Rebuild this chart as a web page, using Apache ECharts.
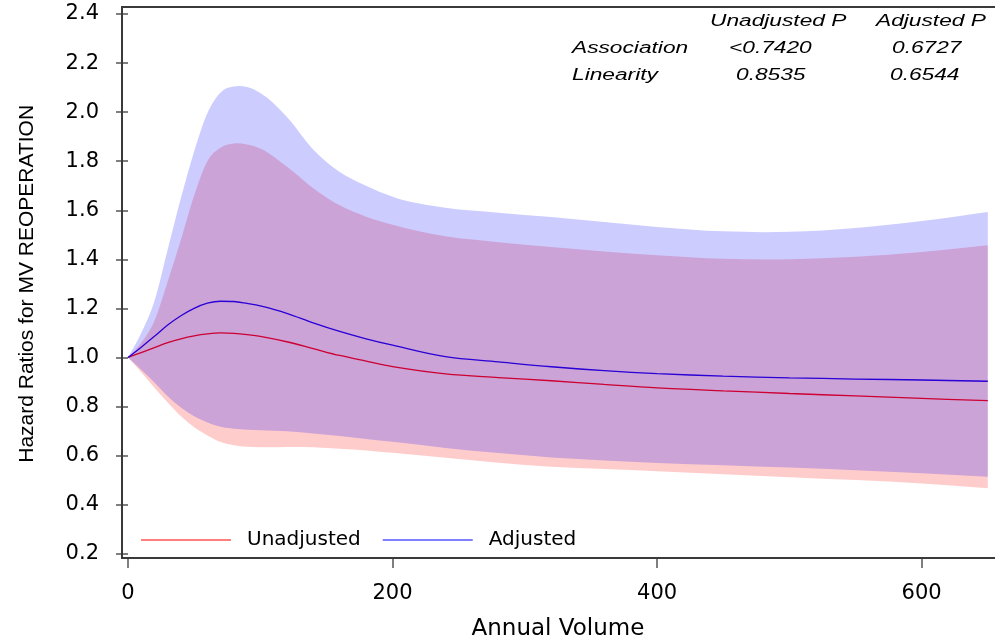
<!DOCTYPE html>
<html>
<head>
<meta charset="utf-8">
<title>Hazard Ratios for MV Reoperation</title>
<script src="https://cdn.jsdelivr.net/npm/echarts@6/dist/echarts.min.js"></script>
<style>
  html, body { margin: 0; padding: 0; background: #fff; }
  #chart { width: 995px; height: 640px; }
</style>
</head>
<body>
<div id="chart"></div>
<script>
// annual volume (x) where the curves were read
var volume = [0, 10, 20, 30, 40, 50, 60, 70, 80, 90, 100, 120, 140, 160, 180, 200,
              240, 280, 320, 360, 400, 450, 500, 550, 600, 650];

// unadjusted hazard ratio and its confidence band
var unadjHR  = [1.000, 1.020, 1.040, 1.060, 1.076, 1.088, 1.096, 1.100, 1.098, 1.093, 1.086, 1.064, 1.036, 1.008, 0.985, 0.963,
                0.933, 0.918, 0.905, 0.890, 0.876, 0.864, 0.853, 0.843, 0.833, 0.824];
var unadjLow = [1.000, 0.940, 0.876, 0.816, 0.760, 0.715, 0.682, 0.655, 0.642, 0.636, 0.634, 0.635, 0.634, 0.628, 0.621, 0.611,
                0.591, 0.571, 0.554, 0.545, 0.536, 0.524, 0.512, 0.500, 0.486, 0.467];
var unadjUp  = [1.000, 1.060, 1.150, 1.310, 1.480, 1.660, 1.800, 1.855, 1.872, 1.868, 1.852, 1.778, 1.690, 1.620, 1.574, 1.541,
                1.494, 1.470, 1.450, 1.432, 1.417, 1.402, 1.400, 1.410, 1.430, 1.457];

// adjusted hazard ratio and its confidence band
var adjHR  = [1.000, 1.042, 1.086, 1.132, 1.170, 1.200, 1.221, 1.229, 1.228, 1.220, 1.210, 1.180, 1.141, 1.106, 1.076, 1.050,
              1.003, 0.982, 0.962, 0.946, 0.934, 0.924, 0.917, 0.912, 0.908, 0.903];
var adjLow = [1.000, 0.950, 0.898, 0.842, 0.796, 0.760, 0.735, 0.717, 0.709, 0.705, 0.703, 0.699, 0.690, 0.680, 0.668, 0.656,
              0.631, 0.610, 0.592, 0.580, 0.570, 0.561, 0.551, 0.540, 0.528, 0.514];
var adjUp  = [1.000, 1.100, 1.230, 1.440, 1.650, 1.840, 1.995, 2.080, 2.104, 2.102, 2.078, 1.981, 1.848, 1.756, 1.700, 1.655,
              1.610, 1.590, 1.572, 1.552, 1.532, 1.514, 1.512, 1.528, 1.556, 1.593];

var xTicks = [0, 200, 400, 600];
var yTicks = [0.2, 0.4, 0.6, 0.8, 1.0, 1.2, 1.4, 1.6, 1.8, 2.0, 2.2, 2.4];

// p-value table in the top right corner
var pHeader = ['Unadjusted P', 'Adjusted P'];
var pRows   = ['Association', 'Linearity'];
var pUnadj  = ['<0.7420', '0.8535'];
var pAdj    = ['0.6727', '0.6544'];

function pairs(ys) {
  return volume.map(function (x, i) { return [x, ys[i]]; });
}

// cubic hermite through screen points (x-ordered), as bezier commands
function curve(pts) {
  var n = pts.length, m = [], d = '';
  function slope(a, b) { return (b[1] - a[1]) / (b[0] - a[0]); }
  for (var i = 0; i < n; i++) {
    if (i === 0) m.push(slope(pts[0], pts[1]));
    else if (i === n - 1) m.push(slope(pts[n - 2], pts[n - 1]));
    else {
      var h0 = pts[i][0] - pts[i - 1][0], h1 = pts[i + 1][0] - pts[i][0];
      m.push((slope(pts[i - 1], pts[i]) * h1 + slope(pts[i], pts[i + 1]) * h0) / (h0 + h1));
    }
  }
  for (var j = 0; j < n - 1; j++) {
    var p1 = pts[j], p2 = pts[j + 1], h = (p2[0] - p1[0]) / 3;
    d += ' C' + (p1[0] + h) + ',' + (p1[1] + m[j] * h) + ' ' +
         (p2[0] - h) + ',' + (p2[1] - m[j + 1] * h) + ' ' + p2[0] + ',' + p2[1];
  }
  return d;
}

function band(name, low, up, color, z) {
  return {
    name: name,
    type: 'custom',
    z: z,
    silent: true,
    encode: { x: 0, y: [1, 2] },
    data: volume.map(function (x, i) { return [x, low[i], up[i]]; }),
    renderItem: function (params, api) {
      if (params.dataIndex !== 0) return null;
      var top = volume.map(function (x, i) { return api.coord([x, up[i]]); });
      var bot = volume.map(function (x, i) { return api.coord([x, low[i]]); }).reverse();
      var d = 'M' + top[0].join(',') + curve(top) + ' L' + bot[0].join(',') + curve(bot) + ' Z';
      return { type: 'path', shape: { pathData: d }, style: { fill: color } };
    }
  };
}

function hrLine(name, ys, color) {
  return {
    name: name,
    type: 'line',
    z: 1,
    color: color,
    data: pairs(ys),
    smooth: 0.35,
    showSymbol: false,
    lineStyle: { width: 1.3, color: color }
  };
}

var italic = 'italic 16px "Liberation Sans", Arial, sans-serif';
function note(txt, x, y) {
  return {
    type: 'text', x: x, y: y, scaleX: 1.42, z: 20,
    style: { text: txt, font: italic, fill: '#000', textVerticalAlign: 'middle' }
  };
}

var notes = [
  note(pHeader[0], 710, 22), note(pHeader[1], 876, 22),
  note(pRows[0], 572, 49), note(pUnadj[0], 729, 49), note(pAdj[0], 892, 49),
  note(pRows[1], 572, 76), note(pUnadj[1], 736, 76), note(pAdj[1], 890, 76)
];

var myChart = echarts.init(document.getElementById('chart'));

var option = {
  animation: false,
  backgroundColor: '#fff',
  grid: { left: 128, right: 7.2, top: 14, bottom: 86.3, outerBoundsMode: 'none', containLabel: false },
  legend: {
    data: ['Unadjusted', 'Adjusted'],
    left: 141, top: 530, padding: 0,
    icon: 'rect', itemWidth: 90, itemHeight: 1.2, itemGap: 22,
    textStyle: { fontSize: 20, color: '#000', fontFamily: 'DejaVu Sans', padding: [0, 0, 0, 11] }
  },
  xAxis: {
    type: 'value', min: 0, max: 650, offset: 4.3,
    name: 'Annual Volume', nameLocation: 'middle', nameGap: 60,
    nameTextStyle: { fontSize: 23, color: '#000', fontFamily: 'DejaVu Sans' },
    axisLine: { show: false },
    axisTick: { show: true, length: 10, customValues: xTicks, lineStyle: { color: '#555', width: 1.5 } },
    axisLabel: { customValues: xTicks, margin: 25, fontSize: 21, color: '#000', fontFamily: 'DejaVu Sans' },
    splitLine: { show: false }
  },
  yAxis: {
    type: 'value', min: 0.2, max: 2.4, interval: 0.2, offset: 6,
    name: 'Hazard Ratios for MV REOPERATION', nameLocation: 'middle', nameGap: 84, nameRotate: 90,
    nameTextStyle: { fontSize: 21, color: '#000', fontFamily: 'Liberation Sans' },
    axisLine: { show: false },
    axisTick: { show: true, length: 12, customValues: yTicks, lineStyle: { color: '#555', width: 1.5 } },
    axisLabel: {
      customValues: yTicks, margin: 23, fontSize: 21, color: '#000', fontFamily: 'DejaVu Sans',
      formatter: function (v) { return v.toFixed(1); }
    },
    splitLine: { show: false }
  },
  graphic: [{
    type: 'polyline', z: 15, silent: true,
    shape: { points: [[995, 7], [122, 7], [122, 558], [995, 558]] },
    style: { stroke: '#3a3a3a', lineWidth: 2, fill: null }
  }].concat(notes),
  series: [
    hrLine('Unadjusted', unadjHR, '#ff0000'),
    hrLine('Adjusted', adjHR, '#0000ff'),
    band('Unadjusted CI', unadjLow, unadjUp, 'rgba(255,0,0,0.2)', 2),
    band('Adjusted CI', adjLow, adjUp, 'rgba(0,0,255,0.2)', 3)
  ]
};

myChart.setOption(option);
</script>
</body>
</html>
